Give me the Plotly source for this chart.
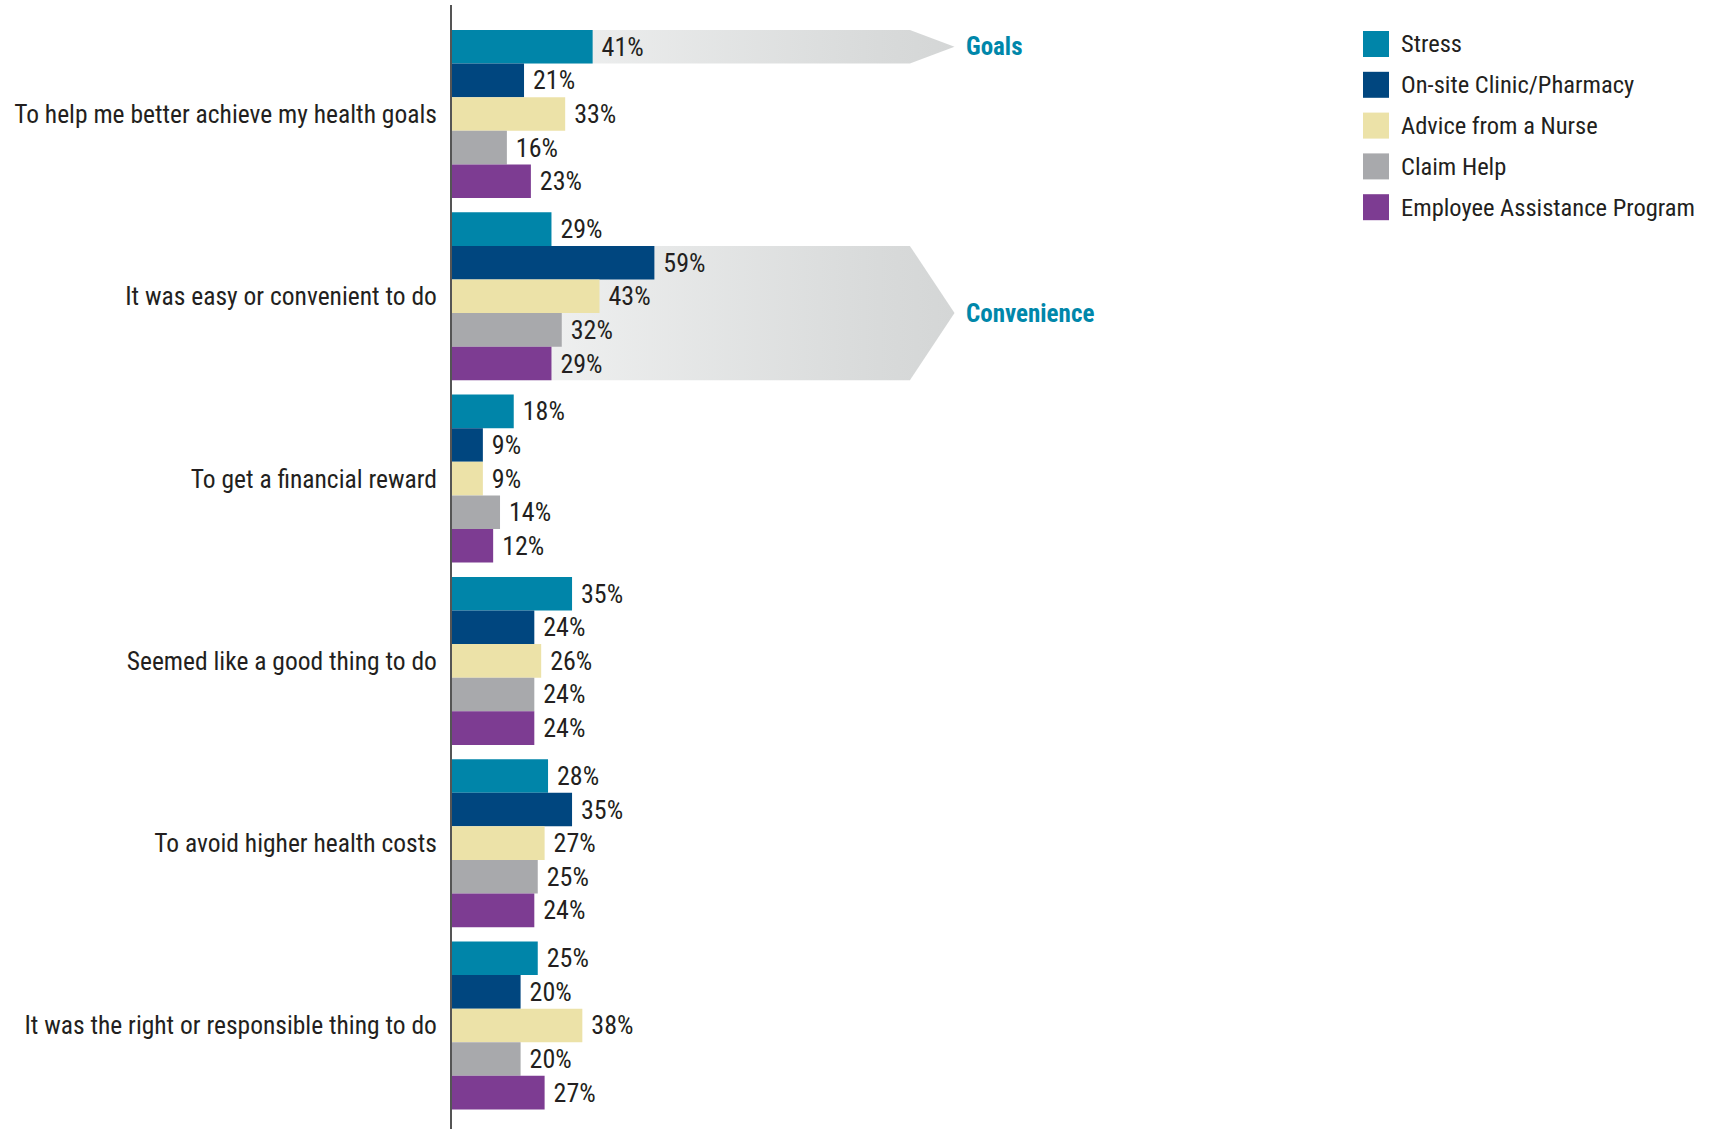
import plotly.graph_objects as go

# Survey reasons (top to bottom) and the share of respondents per program
categories = [
    "To help me better achieve my health goals",
    "It was easy or convenient to do",
    "To get a financial reward",
    "Seemed like a good thing to do",
    "To avoid higher health costs",
    "It was the right or responsible thing to do",
]
series_names = [
    "Stress",
    "On-site Clinic/Pharmacy",
    "Advice from a Nurse",
    "Claim Help",
    "Employee Assistance Program",
]
stress = [41, 29, 18, 35, 28, 25]
onsite_clinic = [21, 59, 9, 24, 35, 20]
nurse_advice = [33, 43, 9, 26, 27, 38]
claim_help = [16, 32, 14, 24, 25, 20]
eap = [23, 29, 12, 24, 24, 27]
series_values = [stress, onsite_clinic, nurse_advice, claim_help, eap]
colors = ["#0085a9", "#00467f", "#ece2a8", "#a8a9ac", "#7d3c92"]

# Callout arrows: (label, category index, first series, last series)
callouts = [("Goals", 0, 0, 0), ("Convenience", 1, 1, 4)]

W, H = 1716, 1129
ML, MT = 452, 5
FONT = "Roboto Condensed, Liberation Sans Narrow, Roboto, sans-serif"
TEXT = "#231f20"
ACCENT = "#0087aa"

BARGAP = 0.0784
X_RANGE = [0, 368.5]
Y_RANGE = [5.568, -0.598]
ARROW_END, ARROW_TIP = 133.5, 146.5

n = len(series_names)
bar_w = (1 - BARGAP) / n


def px_to_paper(px, py):
    return (px - ML) / (W - ML), 1 - (py - MT) / (H - MT)


fig = go.Figure()

# Gradient callout arrows sit on the base axes, underneath the bars
for label, ci, s0, s1 in callouts:
    top = ci - 0.5 + BARGAP / 2 + s0 * bar_w
    bot = ci - 0.5 + BARGAP / 2 + (s1 + 1) * bar_w
    mid = (top + bot) / 2
    fig.add_trace(go.Scatter(
        x=[0, ARROW_END, ARROW_TIP, ARROW_END, 0, 0],
        y=[top, top, mid, bot, bot, top],
        mode="lines", line=dict(width=0), fill="toself",
        fillgradient=dict(type="horizontal",
                          colorscale=[[0, "#f5f6f6"], [0.85, "#d8dada"], [1, "#d4d6d6"]]),
        hoverinfo="skip", showlegend=False, xaxis="x", yaxis="y",
    ))
    fig.add_annotation(x=ARROW_TIP, y=mid, xref="x", yref="y", text=f"<b>{label}</b>",
                       showarrow=False, xanchor="left", yanchor="middle", xshift=9,
                       font=dict(family=FONT, size=25, color=ACCENT))

# Grouped horizontal bars on an overlaying axis pair so they draw above the arrows
for name, vals, col in zip(series_names, series_values, colors):
    fig.add_trace(go.Bar(
        y=list(range(len(categories))), x=vals, orientation="h", name=name,
        marker=dict(color=col, line=dict(width=0)),
        text=[f"\u00a0{v}%" for v in vals], textposition="outside",
        constraintext="none", cliponaxis=False,
        textfont=dict(family=FONT, size=26, color=TEXT),
        showlegend=False, xaxis="x2", yaxis="y2",
    ))

# Legend drawn as square swatches with labels
for i, (name, col) in enumerate(zip(series_names, colors)):
    cy = 44 + i * 40.8
    x0, y0 = px_to_paper(1363, cy - 13)
    x1, y1 = px_to_paper(1389, cy + 13)
    fig.add_shape(type="rect", xref="paper", yref="paper", x0=x0, x1=x1, y0=y1, y1=y0,
                  fillcolor=col, line=dict(width=0))
    tx, ty = px_to_paper(1399, cy)
    fig.add_annotation(x=tx, y=ty, xref="paper", yref="paper", text=name, showarrow=False,
                       xanchor="left", yanchor="middle",
                       font=dict(family=FONT, size=24.5, color=TEXT))

fig.update_layout(
    width=W, height=H,
    margin=dict(l=ML, r=0, t=MT, b=0, autoexpand=False),
    paper_bgcolor="white", plot_bgcolor="white",
    barmode="group", bargap=BARGAP, bargroupgap=0,
    showlegend=False,
    font=dict(family=FONT, size=26, color=TEXT),
    xaxis=dict(range=X_RANGE, visible=False, fixedrange=True),
    yaxis=dict(range=Y_RANGE, tickvals=list(range(len(categories))), ticktext=categories,
               showline=True, linecolor="#555555", linewidth=2, ticks="",
               showgrid=False, zeroline=False, ticklabelstandoff=8, automargin=False,
               tickfont=dict(family=FONT, size=25.5, color=TEXT)),
    xaxis2=dict(range=X_RANGE, overlaying="x", visible=False),
    yaxis2=dict(range=Y_RANGE, overlaying="y", visible=False),
)

fig.write_html("out.html")
